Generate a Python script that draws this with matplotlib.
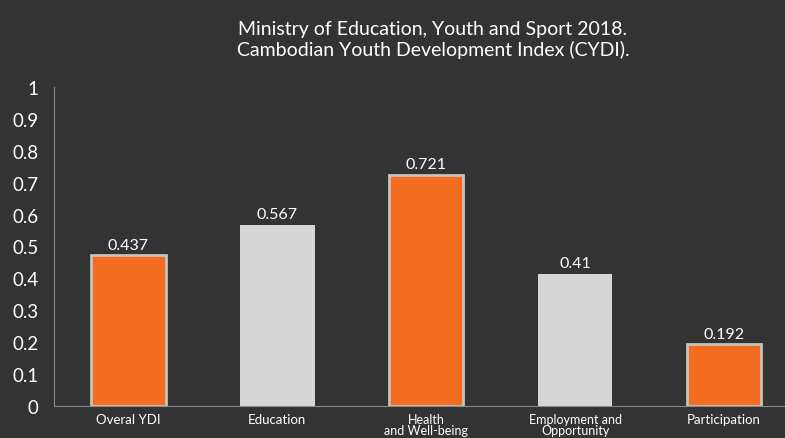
import numpy as np
import matplotlib.pyplot as plt

# data
categories = ['Overal YDI', 'Education', 'Health\nand Well-being',
              'Employment and\nOpportunity', 'Participation']
bar_heights = [0.472, 0.567, 0.724, 0.413, 0.193]
value_labels = ['0.437', '0.567', '0.721', '0.41', '0.192']
highlight = [True, False, True, False, True]

bg = '#333333'
orange = '#F26D21'
grey = '#D6D6D6'
edge = '#C9C2B6'

plt.rcParams['font.family'] = ['Lato', 'DejaVu Sans']

fig = plt.figure(figsize=(7.85, 4.39), dpi=100, facecolor=bg)
ax = fig.add_axes([54 / 785, 32 / 439, 1 - 54 / 785, 319 / 439])
ax.set_facecolor(bg)

x = np.arange(len(categories))
for i in range(len(categories)):
    if highlight[i]:
        ax.bar(x[i], bar_heights[i], width=0.5, color=orange,
               edgecolor=edge, linewidth=2, zorder=3)
    else:
        ax.bar(x[i], bar_heights[i], width=0.5, color=grey,
               edgecolor='none', zorder=3)
    ax.text(x[i], bar_heights[i] + 0.012, value_labels[i], ha='center',
            va='bottom', color='white', fontsize=11.5)

ax.set_xlim(-0.5, 4.41)
ax.set_ylim(0, 1)
ax.set_yticks(np.arange(0, 1.01, 0.1))
ax.set_yticklabels(['0', '0.1', '0.2', '0.3', '0.4', '0.5', '0.6', '0.7',
                    '0.8', '0.9', '1'])
ax.tick_params(axis='y', length=0, pad=11, labelcolor='white', labelsize=13.5)
ax.set_xticks(x)
ax.set_xticklabels(categories)
ax.tick_params(axis='x', length=0, pad=5, labelcolor='white', labelsize=9.5)
for lbl in ax.get_xticklabels():
    lbl.set_linespacing(0.95)
    if '\n' in lbl.get_text():
        lbl.set_fontsize(9)

for side in ['top', 'right']:
    ax.spines[side].set_visible(False)
ax.spines['left'].set_color('#8a8a8a')
ax.spines['bottom'].set_color('#8a8a8a')

fig.text(433 / 785, 1 - 40 / 439,
         'Ministry of Education, Youth and Sport 2018.\nCambodian Youth Development Index (CYDI).',
         ha='center', va='center', color='white', fontsize=14, linespacing=1.15)

fig.savefig('out.png', dpi=100, facecolor=bg)
